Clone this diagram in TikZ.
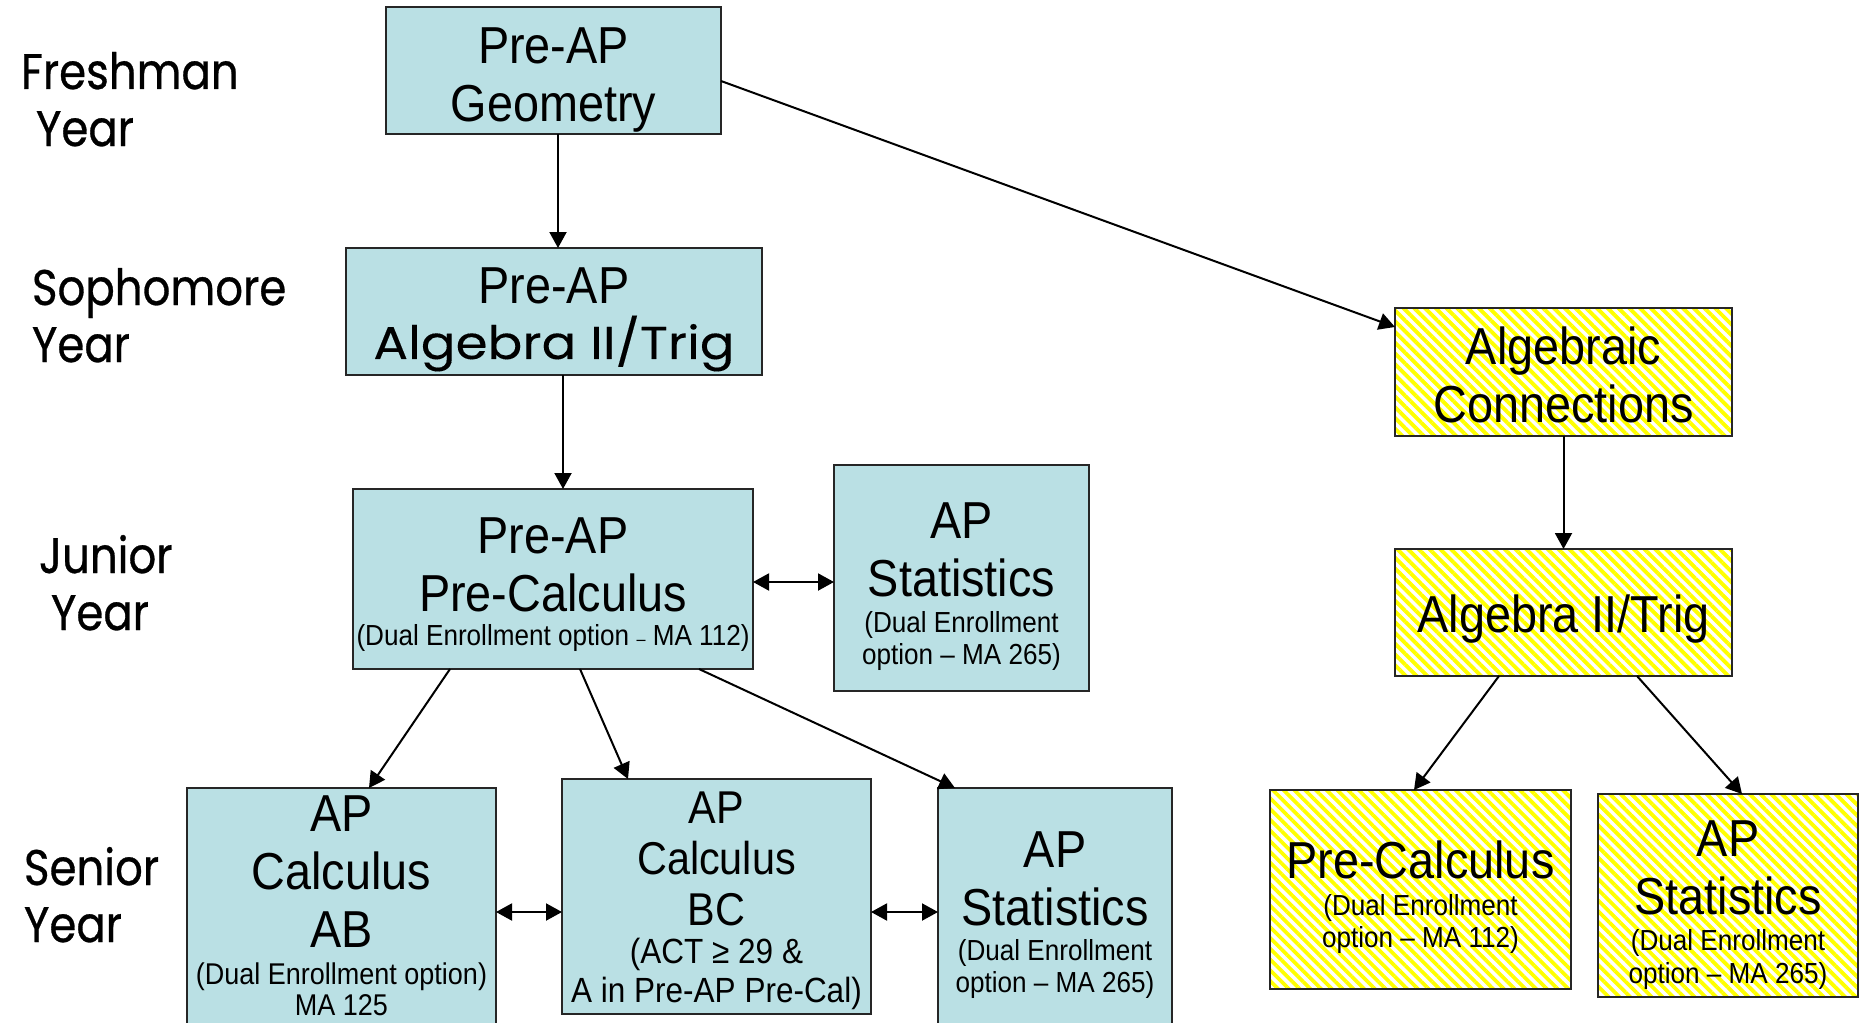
\documentclass[tikz,border=0pt]{standalone}
\usepackage{fontspec}
\setmainfont{Liberation Sans}[FakeStretch=0.9]
\newfontfamily\yearfont{Poppins}[FakeStretch=0.87,FakeBold=0.6]
\newfontfamily\comicbox{Poppins}[FakeStretch=1.12,FakeBold=0.2]
\usetikzlibrary{arrows.meta,patterns.meta}
\definecolor{boxblue}{RGB}{186,224,228}
\newcommand\dbig{\fontsize{26}{29}\selectfont}
\newcommand\dsmall{\fontsize{14.5}{16}\selectfont}
\newcommand\tgap[1]{\rule{0pt}{#1}}
\begin{document}
\begin{tikzpicture}[x=0.5pt,y=-0.5pt,
  every node/.style={inner sep=0pt, outer sep=0pt},
  bsize/.style n args={2}{minimum width=#1*0.5pt, minimum height=#2*0.5pt},
  course/.style={draw=black!85, line width=1pt, align=center, font=\dbig},
  bluebox/.style={course, fill=boxblue},
  yellowbox/.style={course, preaction={fill=white}, pattern={Lines[angle=-45,distance=3.8pt,line width=1.9pt]}, pattern color=yellow},
  yearlabel/.style={align=left, font=\yearfont\fontsize{25}{28.5}\selectfont},
  arr/.style={line width=1pt, -{Triangle[length=8pt,width=8.5pt]}},
  darr/.style={line width=1pt, {Triangle[length=8pt,width=8.5pt]}-{Triangle[length=8pt,width=8.5pt]}}
]
\useasboundingbox (0,0) rectangle (1866,1022);
\clip (0,0) rectangle (1866,1022);
\fill[white] (0,0) rectangle (1866,1022);

% year labels (anchor = baseline of the last line)
\node[yearlabel, anchor=base west] (fresh) at (21,146) {Freshman\\\hspace*{7.5pt}Year};
\node[yearlabel, anchor=base west] (soph) at (32,362) {Sophomore\\Year};
\node[yearlabel, anchor=base west] (jun) at (39,630) {Junior\\\hspace*{6pt}Year};
\node[yearlabel, anchor=base west] (sen) at (24,942) {Senior\\Year};

% blue boxes
\node[bluebox, bsize={335}{127}] (geo) at (553.5,70.5) {\tgap{27.4pt}Pre-AP\\Geometry};
\node[bluebox, bsize={416}{127}] (alg2) at (554,311.5) {\tgap{26.2pt}Pre-AP\\[-1.5pt]{\comicbox\fontsize{23}{29}\selectfont Algebra II/Trig}};
\node[bluebox, bsize={400}{180}] (pc) at (553,579) {\tgap{23.8pt}Pre-AP\\Pre-Calculus\\[-12pt]{\dsmall (Dual Enrollment option {\fontsize{9}{9}\selectfont –} MA 112)}};
\node[bluebox, bsize={255}{226}] (stj) at (961.5,578) {\tgap{26.2pt}AP\\Statistics\\[-11pt]{\dsmall (Dual Enrollment}\\[-13pt]{\dsmall option – MA 265)}};
\node[bluebox, bsize={309}{240}, font=\dbig] (ab) at (341.5,908) {\tgap{20pt}AP\\Calculus\\AB\\[-10.5pt]{\fontsize{15}{16}\selectfont (Dual Enrollment option)}\\[-13.5pt]{\fontsize{15}{16}\selectfont MA 125\rule[-5pt]{0pt}{5pt}}};
\node[bluebox, bsize={309}{235}, font=\fontsize{23}{25.5}\selectfont] (bc) at (716.5,896.5) {\tgap{20.4pt}AP\\Calculus\\BC\\[-6.5pt]{\fontsize{17.5}{19}\selectfont (ACT ≥ 29 \&}\\[-6pt]{\fontsize{17.5}{19}\selectfont A in Pre-AP Pre-Cal)}};
\node[bluebox, bsize={234}{248}] (sts) at (1055,912) {\tgap{21.4pt}AP\\Statistics\\[-11.5pt]{\dsmall (Dual Enrollment}\\[-13pt]{\dsmall option – MA 265)}};

% yellow boxes
\node[yellowbox, bsize={337}{128}] (ac) at (1563.5,372) {\tgap{22pt}Algebraic\\Connections};
\node[yellowbox, bsize={337}{127}] (a2y) at (1563.5,612.5) {\tgap{25pt}Algebra II/Trig};
\node[yellowbox, bsize={301}{199}] (pcy) at (1420.5,889.5) {\tgap{26.2pt}Pre-Calculus\\[-10.5pt]{\dsmall (Dual Enrollment}\\[-13pt]{\dsmall option – MA 112)}};
\node[yellowbox, bsize={260}{203}] (sty) at (1728,895.5) {\tgap{27.4pt}AP\\Statistics\\[-11pt]{\dsmall (Dual Enrollment}\\[-12.5pt]{\dsmall option – MA 265)}};

% connectors
\draw[arr] ([xshift=2.25pt]geo.south) -- ([xshift=2pt]alg2.north);
\draw[arr] ([xshift=4.5pt]alg2.south) -- ([xshift=5pt]pc.north);
\draw[arr] ([yshift=-5.25pt]geo.east) -- ([yshift=-9.5pt]ac.north west);
\draw[arr] (ac.south) -- (a2y.north);
\draw[arr] ([xshift=-32.25pt]a2y.south) -- ([xshift=-3.25pt]pcy.north);
\draw[arr] ([xshift=36.75pt]a2y.south) -- ([xshift=7pt]sty.north);
\draw[darr] ([yshift=-1.5pt]pc.east) -- ([yshift=-2pt]stj.west);
\draw[arr] ([xshift=-51.5pt]pc.south) -- ([xshift=13.75pt]ab.north);
\draw[arr] ([xshift=13.5pt]pc.south) -- ([xshift=-44.25pt]bc.north);
\draw[arr] ([xshift=73pt]pc.south) -- ([xshift=8.5pt]sts.north west);
\draw[darr] ([yshift=-2pt]ab.east) -- ([yshift=-7.75pt]bc.west);
\draw[darr] ([yshift=-7.75pt]bc.east) -- (sts.west);
\end{tikzpicture}
\end{document}
